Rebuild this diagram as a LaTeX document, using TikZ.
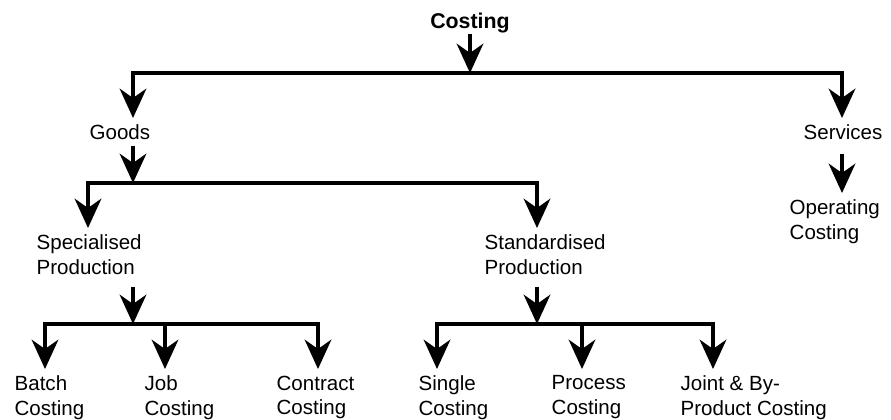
\documentclass[tikz,border=0pt]{standalone}
\usepackage{fontspec}
\setmainfont{Liberation Sans}
\usetikzlibrary{arrows.meta}
\tikzset{
	lbl/.style={anchor=north west,align=left,inner xsep=0pt,inner ysep=3.75pt,font=\fontsize{15.4}{18.6}\selectfont},
	arr/.style={-{Stealth[length=22pt,width=20pt,inset=7pt]}},
}
\begin{document}
\begin{tikzpicture}[x=0.75pt,y=-0.75pt,line width=2.5pt]
		\useasboundingbox (0,0) rectangle (891,419);
		\node[anchor=base,inner sep=0pt,font=\fontsize{16}{19}\selectfont\bfseries] (costing) at (470,28) {Costing};
		\node[lbl] (goods) at (88,118) {Goods};
		\node[lbl] (services) at (802,118) {Services};
		\node[lbl] (oper) at (788,193) {Operating\\Costing};
		\node[lbl] (spec) at (35,228) {Specialised\\Production};
		\node[lbl] (stand) at (483,228) {Standardised\\Production};
		\node[lbl] (batch) at (13,369) {Batch\\Costing};
		\node[lbl] (job) at (143,369) {Job\\Costing};
		\node[lbl] (contract) at (275,369) {Contract\\Costing};
		\node[lbl] (single) at (417,369) {Single\\Costing};
		\node[lbl] (process) at (550,369) {Process\\Costing};
		\node[lbl] (joint) at (679,369) {Joint \& By-\\Product Costing};
		\coordinate (top) at (470,73);
		\coordinate (gb) at (133,73);
		\coordinate (sb) at (842,73);
		\coordinate (gds) at (133,183);
		\coordinate (spb) at (88,183);
		\coordinate (stb) at (537,183);
		\coordinate (spc) at (133,324);
		\coordinate (std) at (537,324);
		\draw[arr] (costing) -- (top);
		\draw[arr] (top) -| (gb |- goods.north);
		\draw[arr] (top) -| (sb |- services.north);
		\draw[arr,shorten <=6pt] (sb |- services.south) -- (sb |- oper.north);
		\draw[arr] (gb |- goods.south) -- (gds);
		\draw[arr] (gds) -| (spb |- spec.north);
		\draw[arr] (gds) -| (stb |- stand.north);
		\draw[arr,shorten <=4pt] (spc |- spec.south) -- (spc);
		\draw[arr,shorten <=4pt] (std |- stand.south) -- (std);
		\foreach \n/\x/\m in {batch/45/spc,job/165/spc,contract/318/spc,single/437/std,process/582/std,joint/713/std}{
			\coordinate (\n b) at (\x,324);
			\draw[arr] (\m) -| (\n b |- \n.north);}
		\end{tikzpicture}
\end{document}
